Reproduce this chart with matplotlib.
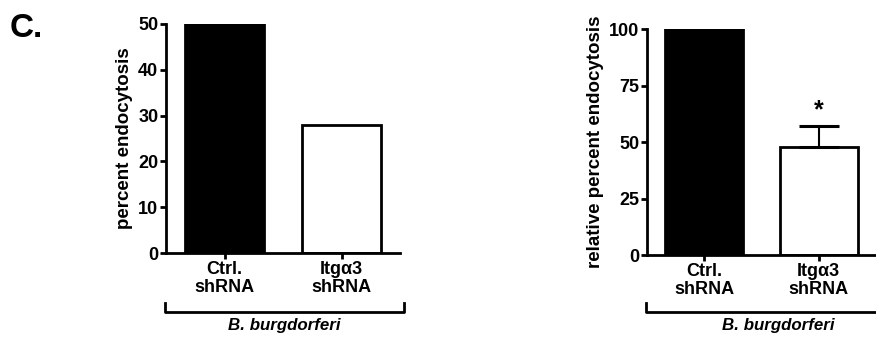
import matplotlib
matplotlib.use("Agg")
import matplotlib.pyplot as plt

plt.rcParams['font.family'] = ['Liberation Sans', 'DejaVu Sans']
plt.rcParams['font.weight'] = 'bold'

# data
groups = ["Ctrl.\nshRNA", "Itg\u03b13\nshRNA"]
pct_endo = [50, 28]
rel_endo = [100, 48]
rel_err = [0, 9]
group_label = "B. burgdorferi"

fig = plt.figure(figsize=(8.76, 3.37), dpi=100)
W, H = 876, 337


def style_axes(ax, yticks, ylabel):
    for s in ["top", "right"]:
        ax.spines[s].set_visible(False)
    for s in ["left", "bottom"]:
        ax.spines[s].set_linewidth(2)
    ax.set_xlim(-0.5, 1.5)
    ax.set_xticks([0, 1])
    ax.set_xticklabels(groups, fontsize=13, fontweight="bold", linespacing=1.1)
    ax.set_yticks(yticks)
    ax.set_yticklabels([str(t) for t in yticks], fontsize=13, fontweight="bold")
    ax.tick_params(axis="both", length=4.5, width=2, pad=1)
    ax.set_ylabel(ylabel, fontsize=13.5, fontweight="bold", labelpad=4)


def bracket(ax, y_line, y_end, y_text, x0, x1):
    tr = ax.get_xaxis_transform()
    ax.plot([x0, x0, x1, x1], [y_end, y_line, y_line, y_end], color="black",
            lw=2, transform=tr, clip_on=False)
    ax.text((x0 + x1) / 2, y_text, group_label, transform=tr, ha="center",
            va="center", fontsize=12.2, fontweight="bold", style="italic")


# left panel
ax1 = fig.add_axes([166 / W, (H - 253) / H, 234 / W, 229 / H])
ax1.bar([0, 1], pct_endo, width=0.68, color=["black", "white"],
        edgecolor="black", linewidth=2)
ax1.set_ylim(0, 50)
style_axes(ax1, [0, 10, 20, 30, 40, 50], "percent endocytosis")
bracket(ax1, -0.258, -0.22, -0.315, -0.51, 1.53)

# right panel
ax2 = fig.add_axes([647 / W, (H - 255) / H, 229 / W, 226 / H])
ax2.bar([0, 1], rel_endo, width=0.68, color=["black", "white"],
        edgecolor="black", linewidth=2)
ax2.errorbar([1], [rel_endo[1]], yerr=[[0], [rel_err[1]]], fmt="none",
             ecolor="black", elinewidth=1.5, capsize=14.5, capthick=2.2)
ax2.text(1, rel_endo[1] + rel_err[1] + 1.5, "*", ha="center", va="bottom",
         fontsize=18, fontweight="bold")
ax2.set_ylim(0, 100)
style_axes(ax2, [0, 25, 50, 75, 100], "relative percent endocytosis")
bracket(ax2, -0.252, -0.212, -0.31, -0.51, 1.8)

fig.text(10 / W, 1 - 37 / H, "C.", fontsize=24, fontweight="bold")

fig.savefig("out.png", dpi=100)
